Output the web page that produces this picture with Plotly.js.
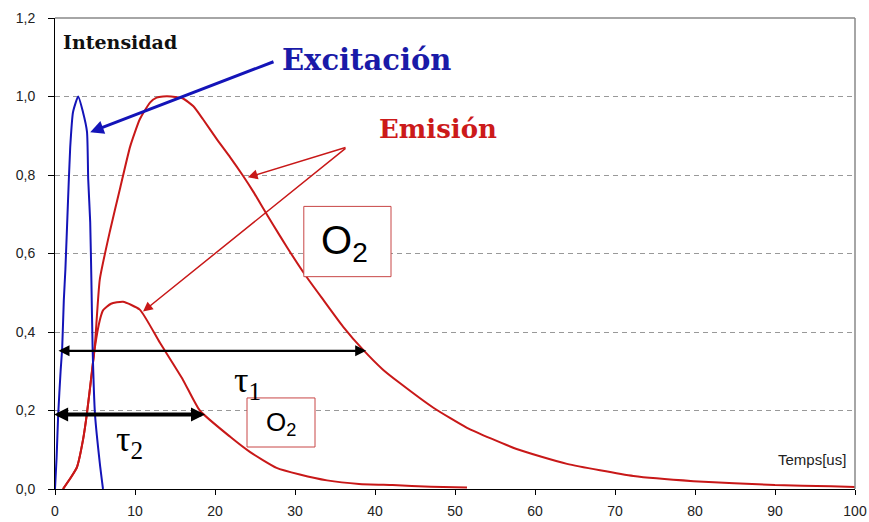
<!DOCTYPE html>
<html>
<head>
<meta charset="utf-8">
<script src="https://cdn.plot.ly/plotly-3.0.1.min.js"></script>
<style>html,body{margin:0;padding:0;background:#fff;}#chart{width:869px;height:522px;}</style>
</head>
<body>
<div id="chart"></div>
<script>
// Excitation pulse (blue)
const excX = [0, 0.2, 0.4, 0.7, 0.9, 1.1, 1.3, 1.6, 1.9, 2.25, 2.9, 3.5, 4.0, 4.15, 4.4, 4.55, 4.7, 5.0, 5.6, 6.0];
const excY = [0, 0.08, 0.19, 0.30, 0.36, 0.48, 0.56, 0.72, 0.87, 0.96, 1.0, 0.96, 0.91, 0.79, 0.68, 0.53, 0.36, 0.19, 0.066, 0];

// Emission without O2 (long decay)
const emiLongX = [1.0, 2.0, 2.75, 3.5, 4.0, 4.6, 5.0, 5.6, 6.9, 8.1, 9.4, 10.6, 11.9, 12.7, 13.5, 14.5, 16, 17.3, 18.5, 20.2, 21.9, 23.5, 24.8, 26, 27.3, 29, 31.25, 33.5, 36, 38.5, 41, 43.1, 47.3, 51.5, 57.7, 64, 72.3, 79.8, 90, 97, 100];
const emiLongY = [0.0, 0.03, 0.056, 0.125, 0.194, 0.296, 0.37, 0.534, 0.66, 0.763, 0.873, 0.942, 0.985, 0.997, 1.0, 1.0, 0.995, 0.975, 0.942, 0.892, 0.845, 0.798, 0.757, 0.716, 0.672, 0.616, 0.546, 0.483, 0.414, 0.355, 0.304, 0.27, 0.207, 0.156, 0.102, 0.064, 0.033, 0.02, 0.01, 0.007, 0.005];

// Emission with O2 (short decay)
const emiShortX = [1.0, 2.0, 2.75, 3.5, 4.0, 4.6, 5.0, 5.6, 6.0, 7.0, 8.5, 10.6, 13.1, 16, 18.1, 21.9, 24.4, 27.7, 30.6, 34, 38, 42.2, 47, 51.5];
const emiShortY = [0.0, 0.03, 0.056, 0.125, 0.194, 0.296, 0.363, 0.43, 0.455, 0.472, 0.477, 0.457, 0.373, 0.278, 0.2, 0.133, 0.094, 0.054, 0.037, 0.022, 0.013, 0.01, 0.006, 0.004];

// Axis ticks
const xTicks = [0, 10, 20, 30, 40, 50, 60, 70, 80, 90, 100];
const yTicks = [0, 0.2, 0.4, 0.6, 0.8, 1.0, 1.2];

const RED = '#c81818';
const BLUE = '#1414b8';

const traces = [
  {x: emiLongX, y: emiLongY, mode: 'lines', line: {color: RED, width: 2, shape: 'spline', smoothing: 0.5}, hoverinfo: 'skip'},
  {x: emiShortX, y: emiShortY, mode: 'lines', line: {color: RED, width: 2, shape: 'spline', smoothing: 0.5}, hoverinfo: 'skip'},
  {x: excX, y: excY, mode: 'lines', line: {color: BLUE, width: 2, shape: 'spline', smoothing: 0.5}, hoverinfo: 'skip'}
];

const sans = 'Liberation Sans, Arial, sans-serif';
const serif = 'DejaVu Serif, serif';
const tserif = 'Liberation Serif, Times New Roman, serif';

const layout = {
  width: 869, height: 522,
  margin: {l: 55, r: 14, t: 18, b: 33},
  paper_bgcolor: '#ffffff', plot_bgcolor: '#ffffff',
  showlegend: false,
  separators: ',.',
  hovermode: false,
  xaxis: {
    range: [0, 100], tickvals: xTicks, ticks: 'outside', ticklen: 5, tickcolor: '#000',
    showgrid: false, zeroline: false, showline: true, linecolor: '#000', linewidth: 1,
    tickfont: {family: sans, size: 14, color: '#222'}, ticklabelstandoff: 4
  },
  yaxis: {
    range: [0, 1.2], tickvals: yTicks, tickformat: '.1f', ticks: 'outside', ticklen: 6, tickcolor: '#000',
    showgrid: true, gridcolor: '#999999', gridwidth: 1, griddash: '5px,4px',
    zeroline: false, showline: true, linecolor: '#000', linewidth: 1,
    tickfont: {family: sans, size: 14, color: '#222'}, ticklabelstandoff: 10
  },
  shapes: [
    {type: 'line', xref: 'paper', yref: 'paper', x0: 0, x1: 1, y0: 1, y1: 1, line: {color: '#888', width: 1.5}},
    {type: 'line', xref: 'paper', yref: 'paper', x0: 1, x1: 1, y0: 0, y1: 1, line: {color: '#888', width: 1.5}},
    {type: 'rect', xref: 'x', yref: 'y', x0: 31.1, x1: 42, y0: 0.541, y1: 0.72, line: {color: '#c84646', width: 1}, fillcolor: '#ffffff', layer: 'above'},
    {type: 'rect', xref: 'x', yref: 'y', x0: 24, x1: 32.5, y0: 0.107, y1: 0.232, line: {color: '#c84646', width: 1}, fillcolor: '#ffffff', layer: 'above'}
  ],
  annotations: [
    {text: '<b>Intensidad</b>', x: 8.1, y: 1.139, xref: 'x', yref: 'y', showarrow: false, font: {family: serif, size: 19, color: '#111'}},
    {text: '<b>Excitación</b>', x: 38.96, y: 1.093, xref: 'x', yref: 'y', showarrow: false, font: {family: serif, size: 29, color: '#1a1aa8'}},
    {text: '<b>Emisión</b>', x: 47.9, y: 0.917, xref: 'x', yref: 'y', showarrow: false, font: {family: serif, size: 26, color: '#cc1a1a'}},
    {text: 'Temps[us]', x: 99.1, y: 0.074, xref: 'x', yref: 'y', xanchor: 'right', showarrow: false, font: {family: sans, size: 15, color: '#222'}},
    {text: 'O<sub>2</sub>', x: 36.2, y: 0.628, xref: 'x', yref: 'y', showarrow: false, font: {family: sans, size: 40, color: '#000'}},
    {text: 'O<sub>2</sub>', x: 28.2, y: 0.168, xref: 'x', yref: 'y', showarrow: false, font: {family: sans, size: 26, color: '#000'}},
    {text: 'τ<sub>1</sub>', x: 24.0, y: 0.272, xref: 'x', yref: 'y', showarrow: false, font: {family: tserif, size: 36, color: '#000'}},
    {text: 'τ<sub>2</sub>', x: 9.3, y: 0.122, xref: 'x', yref: 'y', showarrow: false, font: {family: tserif, size: 36, color: '#000'}},
    // blue arrow
    {text: '', x: 4.4, y: 0.909, ax: 27.5, ay: 1.09, xref: 'x', yref: 'y', axref: 'x', ayref: 'y', showarrow: true, arrowhead: 2, arrowsize: 0.9, arrowwidth: 3, arrowcolor: BLUE, standoff: 0},
    // red arrows
    {text: '', x: 24.1, y: 0.794, ax: 36.5, ay: 0.871, xref: 'x', yref: 'y', axref: 'x', ayref: 'y', showarrow: true, arrowhead: 2, arrowsize: 1.3, arrowwidth: 1.5, arrowcolor: RED, standoff: 0},
    {text: '', x: 11, y: 0.452, ax: 36.5, ay: 0.871, xref: 'x', yref: 'y', axref: 'x', ayref: 'y', showarrow: true, arrowhead: 2, arrowsize: 1.3, arrowwidth: 1.5, arrowcolor: RED, standoff: 0},
    // tau arrows
    {text: '', x: 38.9, y: 0.352, ax: 0.25, ay: 0.352, xref: 'x', yref: 'y', axref: 'x', ayref: 'y', showarrow: true, arrowhead: 2, arrowside: 'end+start', arrowsize: 1, arrowwidth: 2.2, arrowcolor: '#000', standoff: 0, startstandoff: 0},
    {text: '', x: 18.75, y: 0.19, ax: -0.3, ay: 0.19, xref: 'x', yref: 'y', axref: 'x', ayref: 'y', showarrow: true, arrowhead: 2, arrowside: 'end+start', arrowsize: 0.7, arrowwidth: 4, arrowcolor: '#000', standoff: 0, startstandoff: 0}
  ]
};

Plotly.newPlot('chart', traces, layout, {displayModeBar: false, staticPlot: true});
</script>
</body>
</html>
